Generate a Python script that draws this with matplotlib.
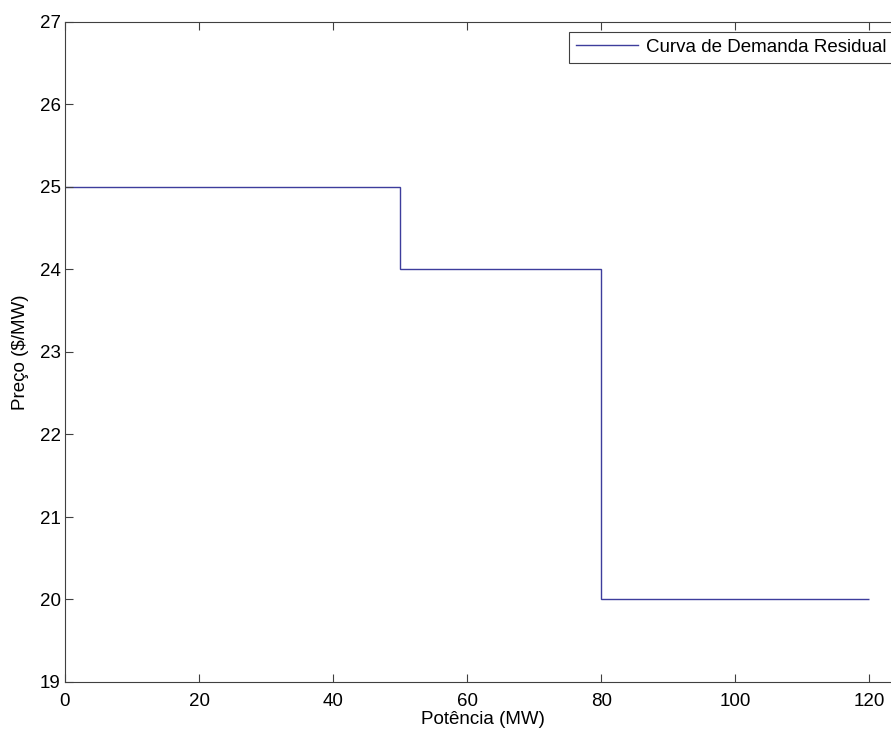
import matplotlib
matplotlib.use("Agg")
import matplotlib.pyplot as plt

# Data
power_edges = [0, 50, 80, 120]      # MW
prices = [25, 24, 20]               # $/MW
xticks = [0, 20, 40, 60, 80, 100, 120]
yticks = [19, 20, 21, 22, 23, 24, 25, 26, 27]
series_label = "Curva de Demanda Residual"

plt.rcParams['font.family'] = ['Liberation Sans', 'DejaVu Sans']
FS = 13.5

W, H = 891, 731
fig = plt.figure(figsize=(W / 100, H / 100), dpi=100)
left_px, top_px, bottom_px = 65, 22, 682
xmin, xmax = 0, 125
px_per_unit = (869.3 - 65) / 120
width_px = (xmax - xmin) * px_per_unit
ax = fig.add_axes([left_px / W, 1 - bottom_px / H, width_px / W, (bottom_px - top_px) / H])

ax.stairs(prices, power_edges, baseline=None, color='#3d3d9c', lw=1.0, label=series_label)

ax.set_xlim(xmin, xmax)
ax.set_ylim(19, 27)
ax.set_xticks(xticks)
ax.set_yticks(yticks)
ax.tick_params(direction='in', length=6, width=0.8, color='#404040', labelsize=FS,
               top=True, right=False)
ax.tick_params(axis='x', pad=8)
ax.tick_params(axis='y', pad=3)
for s in ax.spines.values():
    s.set_color('#404040')
    s.set_linewidth(0.8)
ax.spines['right'].set_visible(False)

ax.set_xlabel('Potência (MW)', fontsize=FS)
ax.set_ylabel('Preço ($/MW)', fontsize=FS)
ax.xaxis.set_label_coords(483 / W, 1 - 711 / H, transform=fig.transFigure)
ax.yaxis.set_label_coords(29 / W, 1 - 352 / H, transform=fig.transFigure)

leg = ax.legend(loc='upper left', bbox_to_anchor=(569 / W, 1 - 31.7 / H),
                bbox_transform=fig.transFigure, borderaxespad=0, fontsize=FS,
                fancybox=False, framealpha=1, edgecolor='#404040',
                handlelength=3.3, handletextpad=0.45, borderpad=0.38)
leg.get_frame().set_linewidth(0.8)

fig.savefig('out.png', dpi=100)
